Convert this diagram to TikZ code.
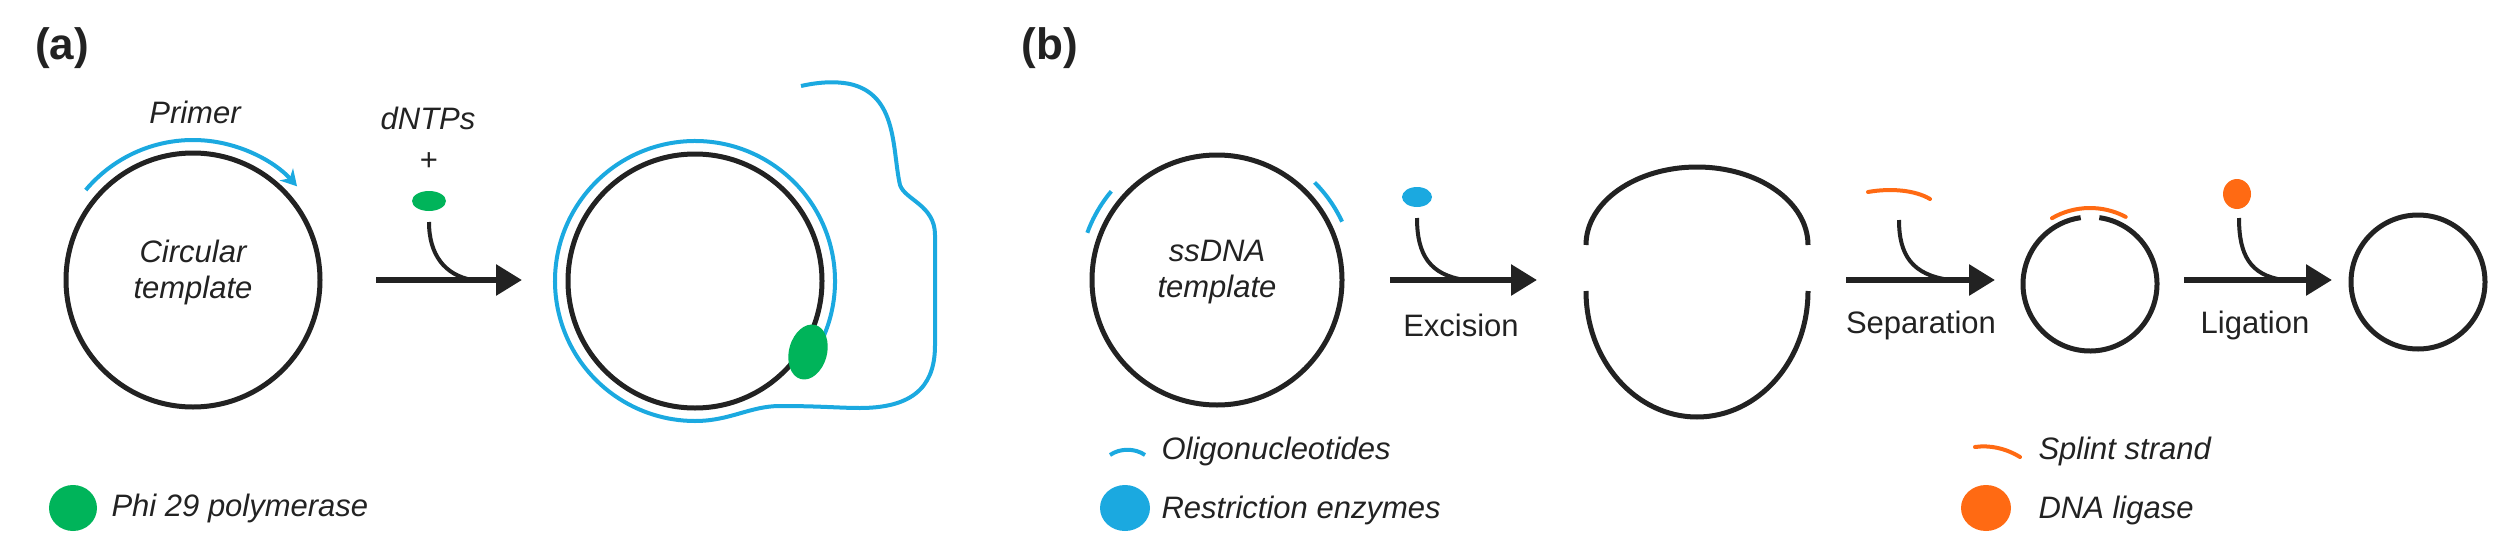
\documentclass[tikz,border=0pt]{standalone}
\usepackage{fontspec}
\setmainfont{Liberation Sans}
\usetikzlibrary{arrows.meta,shapes.geometric}
\definecolor{cblue}{HTML}{1BA9E0}
\definecolor{cgreen}{HTML}{00B45A}
\definecolor{corange}{HTML}{FF6A13}
\definecolor{cblack}{HTML}{222222}
\begin{document}
\begin{tikzpicture}[x=1pt,y=-1pt,
  dna/.style={line width=5pt,draw=cblack},
  bl/.style={line width=4pt,draw=cblue},
  orl/.style={line width=4pt,draw=corange,line cap=round},
  txt/.style={font=\fontsize{31}{36}\selectfont\itshape,text=cblack,align=center},
  lab/.style={font=\fontsize{31}{36}\selectfont,text=cblack},
  panel/.style={font=\fontsize{44}{50}\selectfont\bfseries,text=cblack},
  mainarrow/.style={line width=6pt,draw=cblack,-{Triangle[length=26pt,width=30pt]}},
  hook/.style={line width=4pt,draw=cblack}]
\useasboundingbox (0,0) rectangle (2512,557);
% (a)
\node[panel] (pa) at (62,48) {(a)};
\draw[dna] (193,280) circle (127);
\draw[bl,-{Stealth[length=16pt,width=18pt]}] (193,280) ++(-140:140) arc (-140:-42:140);
\node[txt] (primer) at (195,112) {Primer};
\node[txt] (circ) at (193,272) {Circular\\template};
\node[txt] (dntp) at (428,118) {dNTPs};
\node[lab] (plus) at (429,162) {+};
\node[ellipse,fill=cgreen,minimum width=34pt,minimum height=20pt,inner sep=0] (g1) at (429,201) {};
\coordinate (a1s) at (376,280);
\coordinate (a1e) at (522,280);
\draw[mainarrow] (a1s) -- (a1e);
\draw[hook] (429,222) .. controls (429,255) and (445,275) .. (472,280);
\draw[dna] (695,281) circle (127);
\draw[bl] (695,281) ++(35:140) arc (35:-270:140)
  .. controls (730,421) and (750,406) .. (780,406)
  .. controls (820,406) and (840,408) .. (860,408)
  .. controls (920,408) and (935,380) .. (935,345)
  -- (935,235) .. controls (935,205) and (905,200) .. (900,185)
  .. controls (892,150) and (898,95) .. (850,84) .. controls (830,80) and (810,84) .. (801,86);
\node[ellipse,fill=cgreen,minimum width=38pt,minimum height=56pt,inner sep=0,rotate=-15] (g2) at (808,352) {};
\node[ellipse,fill=cgreen,minimum width=48pt,minimum height=46pt,inner sep=0] (lg) at (73,508) {};
\node[txt,anchor=west] (lgt) at (108,508) {Phi 29 polymerase};
% (b)
\node[panel] (pb) at (1050,48) {(b)};
\draw[dna] (1217,280) circle (125);
\draw[bl] (1217,280) ++(-140:138) arc (-140:-160:138);
\draw[bl] (1217,280) ++(-45:138) arc (-45:-25:138);
\node[txt] (ss) at (1217,272) {ssDNA\\template};
\node[ellipse,fill=cblue,minimum width=30pt,minimum height=20pt,inner sep=0] (rb) at (1417,197) {};
\draw[mainarrow] (1390,280) -- (1537,280);
\draw[hook] (1417,218) .. controls (1417,255) and (1430,275) .. (1465,280);
\node[lab] (exc) at (1461,325) {Excision};
\draw[dna] (1586,245) arc (180:360:111 and 78);
\draw[dna] (1586,291) arc (180:0:111 and 126);
\draw[orl] (1868,192) .. controls (1890,188) and (1915,190) .. (1930,199);
\draw[mainarrow] (1846,280) -- (1995,280);
\draw[hook] (1899,220) .. controls (1899,255) and (1912,275) .. (1950,280);
\node[lab] (sep) at (1921,325) {Separation};
\draw[dna] (2090,284) ++(-82:67) arc (-82:262:67);
\draw[orl] (2090,284) ++(-120:76) arc (-120:-62:76);
\node[ellipse,fill=corange,minimum width=28pt,minimum height=30pt,inner sep=0] (lig) at (2237,194) {};
\draw[mainarrow] (2184,280) -- (2332,280);
\draw[hook] (2239,218) .. controls (2239,255) and (2250,275) .. (2283,280);
\node[lab] (liga) at (2255,325) {Ligation};
\draw[dna] (2418,282) circle (67);
% legend b
\draw[bl] (1110,455) .. controls (1120,448) and (1135,448) .. (1145,455);
\node[txt,anchor=west] (l1) at (1158,451) {Oligonucleotides};
\node[ellipse,fill=cblue,minimum width=50pt,minimum height=46pt,inner sep=0] (l2d) at (1125,508) {};
\node[txt,anchor=west] (l2) at (1158,510) {Restriction enzymes};
\draw[orl] (1975,447) .. controls (1990,445) and (2005,448) .. (2020,457);
\node[txt,anchor=west] (l3) at (2035,451) {Splint strand};
\node[ellipse,fill=corange,minimum width=50pt,minimum height=46pt,inner sep=0] (l4d) at (1986,508) {};
\node[txt,anchor=west] (l4) at (2035,510) {DNA ligase};
\end{tikzpicture}
\end{document}
